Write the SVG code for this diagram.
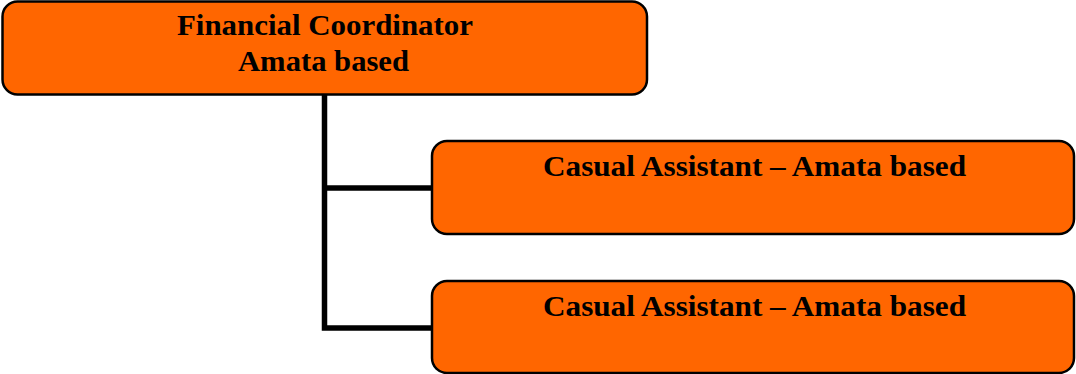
<svg xmlns="http://www.w3.org/2000/svg" width="1076" height="374" viewBox="0 0 1076 374">
<style>
.box{fill:#FF6600;stroke:#000;stroke-width:2.5}
.lbl{font-family:"Liberation Serif","Times New Roman",serif;font-weight:bold;font-size:30px;fill:#000;text-anchor:middle}
.conn{fill:none;stroke:#000;stroke-width:5.5;stroke-linejoin:miter}
</style>
<g id="connectors">
<path class="conn" d="M324.5 95 V328 H432"/>
<path class="conn" d="M324.5 188 H432"/>
</g>
<g id="node-fc">
<rect class="box" x="2.5" y="1.5" width="644.5" height="93" rx="15"/>
<text class="lbl" x="325" y="35" textLength="296" lengthAdjust="spacingAndGlyphs">Financial Coordinator</text>
<text class="lbl" x="323.5" y="70.5" textLength="171" lengthAdjust="spacingAndGlyphs">Amata based</text>
</g>
<g id="node-ca1">
<rect class="box" x="432" y="141" width="642" height="93" rx="15"/>
<text class="lbl" x="754.5" y="176" textLength="423" lengthAdjust="spacingAndGlyphs">Casual Assistant – Amata based</text>
</g>
<g id="node-ca2">
<rect class="box" x="432" y="281" width="642" height="92" rx="15"/>
<text class="lbl" x="754.5" y="316" textLength="423" lengthAdjust="spacingAndGlyphs">Casual Assistant – Amata based</text>
</g>
</svg>
